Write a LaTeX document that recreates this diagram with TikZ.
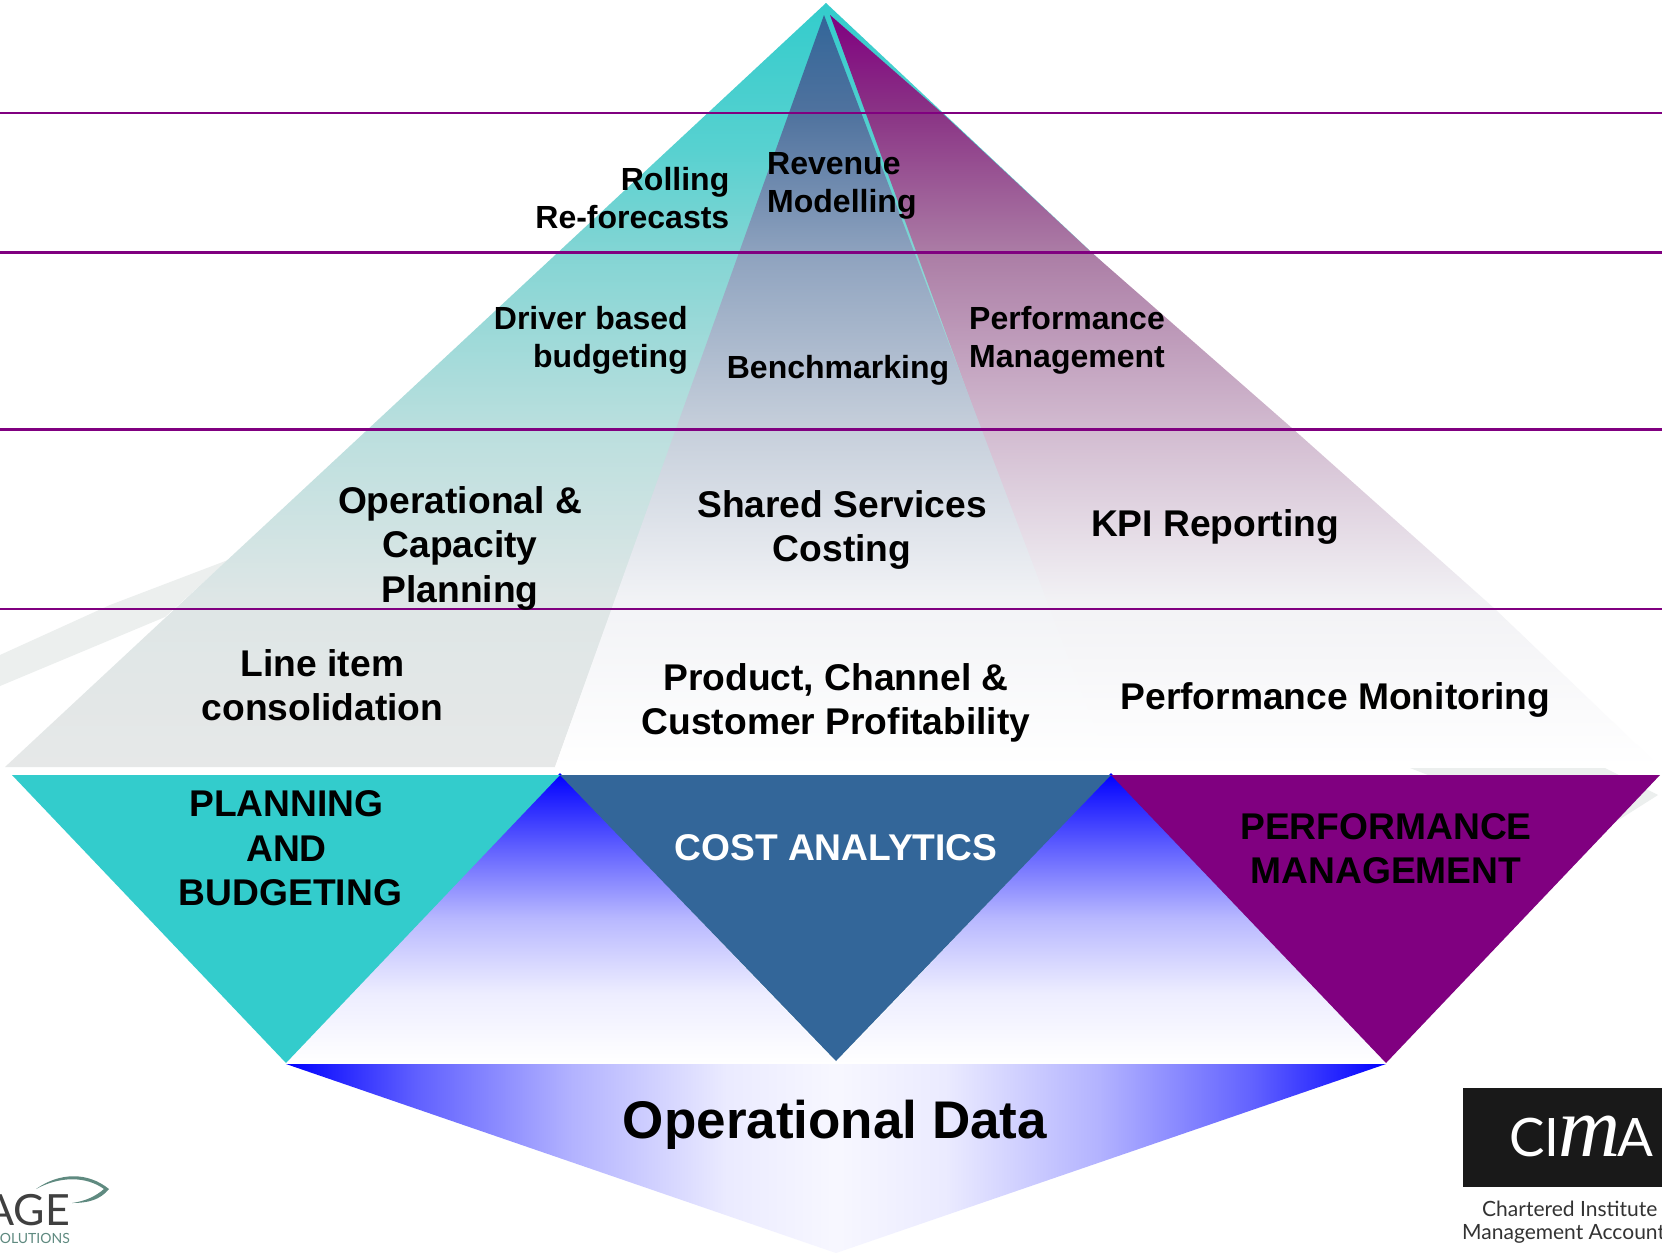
\documentclass[tikz,border=0pt]{standalone}
\usepackage{fontspec}
\setmainfont{Liberation Sans}
\newfontfamily\logofont{Lato}
\newfontfamily\logoserif{Liberation Serif}
\definecolor{tA}{HTML}{E6E8E8}\definecolor{tB}{HTML}{DEE6E6}\definecolor{tC}{HTML}{BBDFDE}
\definecolor{tD}{HTML}{84D5D4}\definecolor{tE}{HTML}{57D1D0}\definecolor{tF}{HTML}{33CCCC}
\definecolor{pB}{HTML}{F2F2F5}\definecolor{pC}{HTML}{D2BBD0}\definecolor{pD}{HTML}{AC7EA6}\definecolor{pE}{HTML}{8A3485}\definecolor{pF}{HTML}{800080}
\definecolor{mB}{HTML}{F2F3F6}\definecolor{mC}{HTML}{C6CFDB}\definecolor{mD}{HTML}{8FA3BF}\definecolor{mE}{HTML}{4F729E}\definecolor{mF}{HTML}{336699}
\definecolor{rulec}{HTML}{800080}
\definecolor{swoosh}{HTML}{ECEFEE}
\definecolor{leaf}{HTML}{5F8A80}
\pgfdeclareverticalshading{tealgrayb}{100bp}{color(0bp)=(tA);color(25bp)=(tA);color(36bp)=(tB);color(47bp)=(tC);color(58.5bp)=(tD);color(65.5bp)=(tE);color(75bp)=(tF);color(100bp)=(tF)}
\pgfdeclareverticalshading{tealwhite}{100bp}{color(0bp)=(white);color(25bp)=(white);color(36bp)=(tB);color(47bp)=(tC);color(58.5bp)=(tD);color(65.5bp)=(tE);color(75bp)=(tF);color(100bp)=(tF)}
\pgfdeclareverticalshading{purpfade}{100bp}{color(0bp)=(white);color(25bp)=(white);color(36bp)=(pB);color(47.5bp)=(pC);color(59bp)=(pD);color(68.5bp)=(pE);color(75bp)=(pF);color(100bp)=(pF)}
\pgfdeclareverticalshading{midfade}{100bp}{color(0bp)=(white);color(25bp)=(white);color(36bp)=(mB);color(47.5bp)=(mC);color(59bp)=(mD);color(68.5bp)=(mE);color(75bp)=(mF);color(100bp)=(mF)}
\pgfdeclareverticalshading{bluefade}{100bp}{color(0bp)=(white);color(25bp)=(white);color(37bp)=(blue!7);color(50bp)=(blue!28);color(62bp)=(blue!62);color(75bp)=(blue);color(100bp)=(blue)}
\pgfdeclarehorizontalshading{bluemid}{100bp}{color(0bp)=(blue);color(25bp)=(blue);color(31bp)=(blue!62);color(38bp)=(blue!30);color(45bp)=(blue!8);color(50bp)=(blue!3);color(55bp)=(blue!8);color(62bp)=(blue!30);color(69bp)=(blue!62);color(75bp)=(blue);color(100bp)=(blue)}
\tikzset{
 lbl/.style={font=\bfseries\fontsize{32}{38}\selectfont,text=black,inner sep=0pt},
 big/.style={font=\bfseries\fontsize{37.2}{44.5}\selectfont,text=black,align=center,inner sep=0pt},
 levelrule/.style={draw=rulec,line width=2.8pt},
 logotxt/.style={inner sep=0pt,text=black!80},
}
\begin{document}
\begin{tikzpicture}[x=1pt,y=-1pt]
\useasboundingbox (0,0) rectangle (1662,1253);
\fill[white] (0,0) rectangle (1662,1253);
% background swooshes
\fill[swoosh] (0,655) -- (110,605) -- (228,560) -- (165,617) -- (0,686) -- cycle;
\fill[swoosh] (1410,768) -- (1605,768) -- (1658,795) -- (1590,838) -- cycle;
% pyramid
\shade[shading=tealwhite] (826,3) -- (1640,767) -- (555,767) -- cycle;
\shade[shading=tealgrayb] (826,3) -- (5,767) -- (555,767) -- (824,15) -- cycle;
\shade[shading=purpfade] (830,15) -- (942,113) -- (1091,252) -- (1293,429) -- (1495,609) -- (1660,767) -- (1104,767) -- cycle;
\shade[shading=midfade] (824,15) -- (555,767) -- (1110,767) -- cycle;
% level rules
\draw[levelrule] (0,113) -- (1662,113);
\draw[levelrule] (0,252.5) -- (1662,252.5);
\draw[levelrule] (0,429.5) -- (1662,429.5);
\draw[levelrule] (0,609) -- (1662,609);
% lower triangles
\shade[shading=bluefade] (560,773) -- (836,1063) -- (286,1063) -- cycle;
\shade[shading=bluefade] (1111,773) -- (1386,1063) -- (836,1063) -- cycle;
\fill[tF] (12,775) -- (560,775) -- (286,1063) -- cycle;
\fill[mF] (560,775) -- (1111,775) -- (836,1061) -- cycle;
\fill[pF] (1111,775) -- (1660,775) -- (1386,1063) -- cycle;
\shade[shading=bluemid] (286,1064) -- (1386,1064) -- (836,1253) -- cycle;
% labels
\node[lbl,align=right,anchor=east] (rolling) at (729.5,198) {Rolling\\Re-forecasts};
\node[lbl,align=left,anchor=west] (revenue) at (767,186) {Revenue\\Modelling};
\node[lbl,align=right,anchor=east] (driver) at (688,340) {Driver based\\budgeting};
\node[lbl] (bench) at (838,370) {Benchmarking};
\node[lbl,align=left,anchor=west] (perfmgmt) at (969,340) {Performance\\Management};
\node[big] (opcap) at (460,548) {Operational \&\\Capacity\\Planning};
\node[big] (shared) at (842,530) {Shared Services\\Costing};
\node[big] (kpi) at (1215,527) {KPI Reporting};
\node[big] (lineitem) at (322.5,685) {Line item\\consolidation};
\node[big] (product) at (836,703) {Product, Channel \&\\Customer Profitability};
\node[big] (monitor) at (1335.5,700) {Performance Monitoring};
\node[big] (planning) at (286.5,848.5) {PLANNING\\AND\\\hspace*{8pt}BUDGETING};
\node[big,text=white] (cost) at (836,848) {COST ANALYTICS};
\node[big] (perf) at (1386,848.5) {PERFORMANCE\\MANAGEMENT};
\node[font=\bfseries\fontsize{53}{60}\selectfont,inner sep=0pt] (opdata) at (835,1125) {Operational Data};
% CIMA logo
\fill[black!90] (1463,1088) rectangle (1662,1187);
\node[inner sep=0pt,text=white,font=\logofont\fontsize{53}{60}\selectfont,anchor=base west] (cima) at (1509,1156) {CI\kern-1pt{\logoserif\itshape\fontsize{86}{60}\selectfont m}\kern-3pt A};
\node[logotxt,font=\logofont\fontsize{21}{24.5}\selectfont,anchor=west] (chartered) at (1482,1209) {Chartered Institute};
\node[logotxt,font=\logofont\fontsize{21}{24.5}\selectfont,anchor=west] (mgmt) at (1462,1234) {Management Account};
% left logo
\node[inner sep=0pt,text=black!75,font=\logofont\fontsize{43}{48}\selectfont,anchor=base east] (age) at (70,1225) {AGE};
\node[inner sep=0pt,text=leaf,font=\logofont\fontsize{14}{20}\selectfont,anchor=base east] (sol) at (70,1243) {SOLUTIONS};
\fill[leaf] (36,1189) .. controls (60,1172) and (88,1172) .. (109,1189) .. controls (100,1200) and (88,1203) .. (72,1203) .. controls (86,1201) and (96,1196) .. (104,1189) .. controls (86,1176) and (60,1176) .. (36,1189) -- cycle;
\end{tikzpicture}
\end{document}
